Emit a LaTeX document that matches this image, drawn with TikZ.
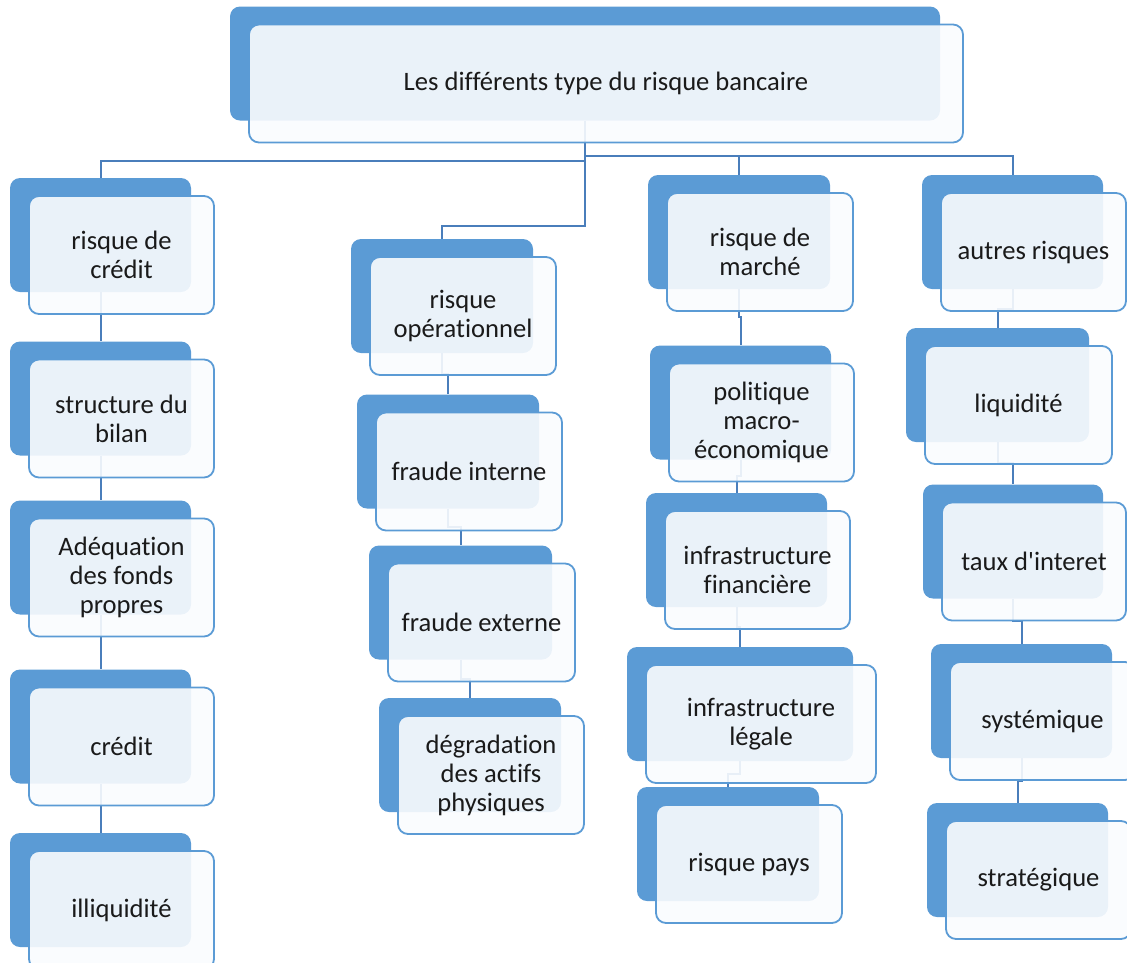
\documentclass[tikz,border=0pt]{standalone}
\usepackage{fontspec}
\setmainfont{Carlito}[Ligatures={TeXOff,NoCommon}]
\usetikzlibrary{calc}
\pgfdeclarelayer{bg}
\pgfsetlayers{bg,main}
\definecolor{boxblue}{HTML}{5B9BD5}
\definecolor{linkblue}{HTML}{4A7EBB}
\definecolor{frontfill}{HTML}{FAFCFE}
\definecolor{textgray}{HTML}{1A1A1A}
\newcommand{\riskpair}[5]{%
  \node[backbox, minimum width=#4] (#1b) at (#2,#3) {};
  \node[frontbox, minimum width=#4+4] (#1) at ($(#1b)+(21,20)$) {#5};}
\newcommand{\jog}[2]{%
  \draw[link] (#1b.south) |- ($(#1b.south)!.5!(#2b.north)$) -| (#2b.north);}

\begin{document}
\begin{tikzpicture}[x=1pt,y=-1pt,
  backbox/.style={fill=boxblue,rounded corners=10pt,minimum height=114,inner sep=0pt},
  frontbox/.style={draw=boxblue,line width=1.8pt,fill=frontfill,fill opacity=0.9,text opacity=1,
    rounded corners=10pt,minimum height=118,inner sep=0pt,align=center,text=textgray,
    font=\fontsize{26.6}{29}\selectfont},
  link/.style={draw=linkblue,line width=2pt}]
\useasboundingbox (0,0) rectangle (1127,962);

\riskpair{top}{585}{63.5}{710}{Les différents type du risque bancaire}

\riskpair{cre}{100.5}{235}{181}{risque de\\crédit}
\riskpair{bil}{100.5}{398.5}{181}{structure du\\bilan}
\riskpair{adq}{100.5}{557.5}{181}{Adéquation\\des fonds\\propres}
\riskpair{crd}{100.5}{726.5}{181}{crédit}
\riskpair{ill}{100.5}{890}{181}{illiquidité}

\riskpair{ope}{442}{296}{182}{risque\\opérationnel}
\riskpair{fri}{448}{451.5}{182}{fraude interne}
\riskpair{fre}{460.5}{602.5}{183}{fraude externe}
\riskpair{deg}{470}{755}{182}{dégradation\\des actifs\\physiques}

\riskpair{mar}{739}{232}{182}{risque de\\marché}
\riskpair{pol}{740.5}{402.5}{181}{politique\\macro-\\économique}
\riskpair{inff}{736.5}{550}{181}{infrastructure\\financière}
\riskpair{infl}{740}{704}{226}{infrastructure\\légale}
\riskpair{pay}{728}{844}{182}{risque pays}

\riskpair{aut}{1012.5}{232}{181}{autres risques}
\riskpair{liq}{997.5}{385}{183}{liquidité}
\riskpair{tau}{1013}{541.5}{180}{taux d'interet}
\riskpair{sys}{1021.5}{701}{181}{systémique}
\riskpair{str}{1017.5}{860}{181}{stratégique}

\begin{pgfonlayer}{bg}
\coordinate (busr) at ($(topb.south)+(0,35)$);
\coordinate (busl) at ($(topb.south)+(0,40)$);
\coordinate (busop) at ($(topb.south)+(0,105)$);
\draw[link] (topb.south) -- (busop) -| (opeb.north);
\draw[link] (busr) -| (marb.north);
\draw[link] (busr) -| (autb.north);
\draw[link] (busl) -| (creb.north);
\jog{cre}{bil}
\jog{bil}{adq}
\jog{adq}{crd}
\jog{crd}{ill}
\jog{ope}{fri}
\jog{fri}{fre}
\jog{fre}{deg}
\jog{mar}{pol}
\jog{pol}{inff}
\jog{inff}{infl}
\jog{infl}{pay}
\jog{aut}{liq}
\jog{liq}{tau}
\jog{tau}{sys}
\jog{sys}{str}
\end{pgfonlayer}
\end{tikzpicture}
\end{document}
